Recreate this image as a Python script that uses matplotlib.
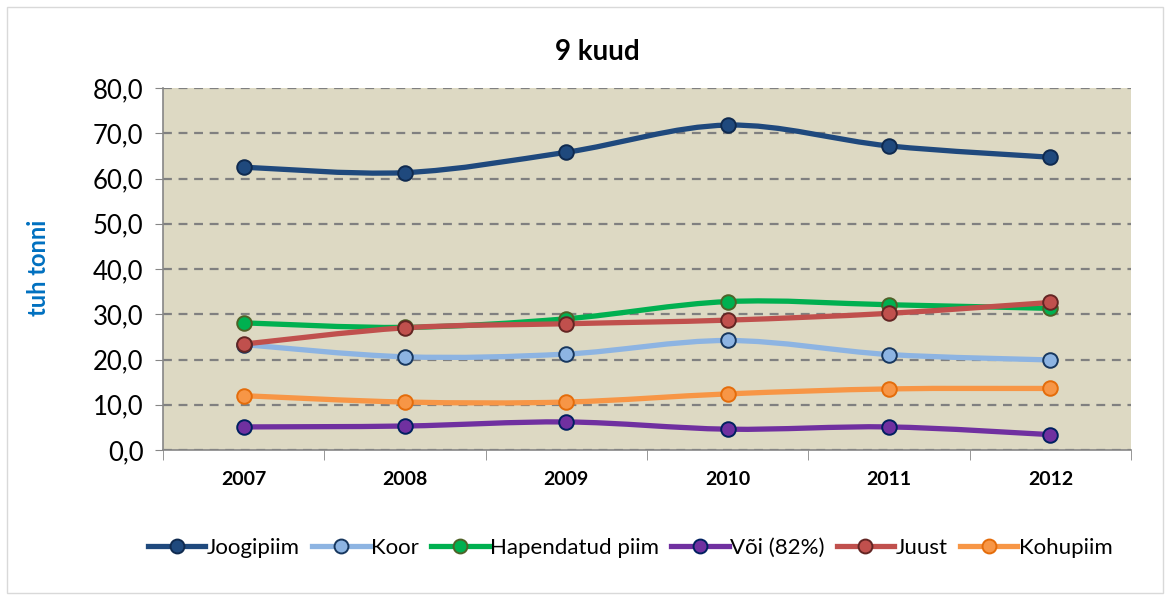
import numpy as np
import matplotlib
matplotlib.use('Agg')
from matplotlib import pyplot as plt
from matplotlib.path import Path
from matplotlib.patches import PathPatch, Rectangle
from matplotlib.lines import Line2D

plt.rcParams['font.family'] = ['Lato', 'DejaVu Sans']

years = ['2007', '2008', '2009', '2010', '2011', '2012']
joogipiim = [62.5, 61.3, 65.8, 71.8, 67.2, 64.7]
koor = [23.3, 20.6, 21.2, 24.2, 21.1, 19.9]
hapendatud = [28.1, 27.1, 29.0, 32.8, 32.1, 31.3]
voi = [5.1, 5.3, 6.2, 4.6, 5.1, 3.4]
juust = [23.4, 27.0, 27.9, 28.7, 30.2, 32.6]
kohupiim = [12.0, 10.6, 10.6, 12.4, 13.5, 13.6]

series = [
    ('Joogipiim', joogipiim, '#1F497D', '#0F2A4F'),
    ('Koor', koor, '#8DB4E2', '#17375E'),
    ('Hapendatud piim', hapendatud, '#00B050', '#4F6228'),
    ('Või (82%)', voi, '#7030A0', '#002060'),
    ('Juust', juust, '#C0504D', '#632523'),
    ('Kohupiim', kohupiim, '#F79646', '#E46C0A'),
]


def smooth_path(x, y):
    # Excel-like smoothed line: Catmull-Rom segments as cubic Bezier curves
    pts = np.column_stack([x, y]).astype(float)
    verts = [pts[0]]
    codes = [Path.MOVETO]
    n = len(pts)
    for i in range(n - 1):
        p0 = pts[i - 1] if i > 0 else pts[i]
        p1 = pts[i]
        p2 = pts[i + 1]
        p3 = pts[i + 2] if i + 2 < n else pts[i + 1]
        c1 = p1 + (p2 - p0) / 6.0
        c2 = p2 - (p3 - p1) / 6.0
        verts += [c1, c2, p2]
        codes += [Path.CURVE4] * 3
    return Path(verts, codes)


fig = plt.figure(figsize=(11.71, 5.95), dpi=100)
fig.patches.append(Rectangle((7 / 1171, 2 / 595), 1156 / 1171, 586 / 595,
                             transform=fig.transFigure, fill=False,
                             edgecolor='#D9D9D9', linewidth=1))
ax = fig.add_axes([163 / 1171, 145 / 595, 968 / 1171, 362 / 595])
ax.set_facecolor('#DDD9C3')

x = np.arange(len(years))
handles = []
for name, vals, col, edge in series:
    ax.add_patch(PathPatch(smooth_path(x, vals), facecolor='none',
                           edgecolor=col, linewidth=3.8, capstyle='round',
                           zorder=3))
    ax.plot(x, vals, linestyle='none', marker='o', markersize=10.5,
            markerfacecolor=col, markeredgecolor=edge, markeredgewidth=1.4,
            zorder=4)
    handles.append(Line2D([], [], color=col, linewidth=3.8, marker='o',
                          markersize=10, markerfacecolor=col,
                          markeredgecolor=edge, markeredgewidth=1.4,
                          label=name))

ax.set_xlim(-0.5, len(years) - 0.5)
ax.set_ylim(0, 80)
ax.set_yticks(np.arange(0, 81, 10))
ax.set_yticklabels([f'{v:.1f}'.replace('.', ',') for v in np.arange(0, 81, 10)],
                   fontsize=18.5)
ax.set_xticks(x)
ax.set_xticklabels(years, fontsize=14, fontweight='bold')
ax.set_xticks(np.arange(-0.5, len(years)), minor=True)
ax.tick_params(axis='x', which='major', length=0, pad=15)
ax.tick_params(axis='x', which='minor', length=7, color='#868686')
ax.tick_params(axis='y', length=6, color='#868686', pad=8)
ax.grid(axis='y', color='#808080', linestyle=(0, (4, 3)), linewidth=1.6)
ax.set_axisbelow(True)
for side in ['top', 'right']:
    ax.spines[side].set_visible(False)
for side in ['left', 'bottom']:
    ax.spines[side].set_color('#868686')
    ax.spines[side].set_linewidth(1.2)

fig.text(597 / 1171, 1 - 52 / 595, '9 kuud', fontsize=20, fontweight='bold',
         ha='center', va='center')
fig.text(38 / 1171, 1 - 268 / 595, 'tuh tonni', fontsize=17, fontweight='bold',
         color='#0070C0', rotation=90, ha='center', va='center')

fig.legend(handles=handles, loc='center', bbox_to_anchor=(630 / 1171, 47 / 595),
           ncol=6, frameon=False, fontsize=16, handlelength=2.6,
           handletextpad=0.05, columnspacing=0.55)

fig.savefig('out.png', dpi=100)
